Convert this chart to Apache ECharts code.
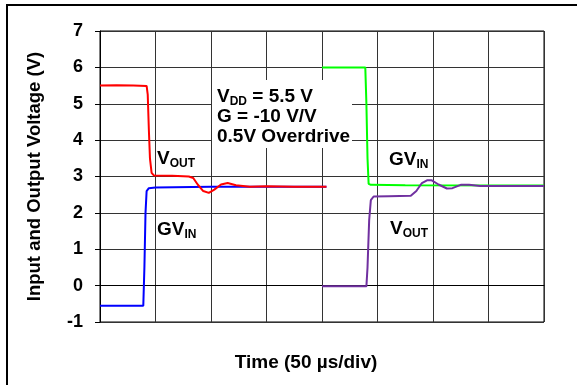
<!DOCTYPE html>
<html><head><meta charset="utf-8">
<script src="https://cdn.jsdelivr.net/npm/echarts@6/dist/echarts.min.js"></script>
<style>html,body{margin:0;padding:0;background:#fff}#c{width:577px;height:385px}</style>
</head><body><div id="c"></div>
<script>
// Time in divisions (50 µs/div), voltage in V
const redVout = [[0,5.5],[0.3,5.51],[0.6,5.5],[0.84,5.49],[0.86,5.25],[0.88,4.3],[0.9,3.5],[0.93,3.1],[0.97,3.03],[1.3,3.02],[1.6,3.0],[1.68,2.96],[1.76,2.78],[1.86,2.6],[1.96,2.55],[2.06,2.64],[2.18,2.78],[2.3,2.82],[2.45,2.76],[2.7,2.72],[3.0,2.73],[3.5,2.72],[4.08,2.72]];
const blueGvin = [[0,-0.55],[0.78,-0.55],[0.8,0.5],[0.82,2.0],[0.84,2.6],[0.88,2.68],[1.0,2.7],[2.0,2.72],[4.08,2.72]];
const greenGvin = [[4.0,6.0],[4.78,6.0],[4.8,5.0],[4.82,3.5],[4.84,2.8],[4.88,2.77],[5.5,2.76],[8.0,2.75]];
const purpleVout = [[4.0,-0.02],[4.8,-0.02],[4.82,0.5],[4.85,1.8],[4.88,2.35],[4.93,2.45],[5.2,2.46],[5.6,2.47],[5.7,2.6],[5.8,2.82],[5.9,2.9],[5.97,2.9],[6.1,2.78],[6.25,2.67],[6.35,2.68],[6.5,2.77],[6.65,2.77],[6.85,2.74],[8.0,2.74]];
const yTicks = [-1,0,1,2,3,4,5,6,7];
const xDivs = [0,8];

const FONT = '"Liberation Sans", Arial, sans-serif';
const rich = {
  b:{fontSize:19,fontWeight:'bold',fontFamily:FONT,color:'#000'},
  s:{fontSize:12,fontWeight:'bold',fontFamily:FONT,color:'#000',padding:[10,0,0,0]}
};
const chart = echarts.init(document.getElementById('c'));
function lineSeries(name,data,color){
  return {name,type:'line',data,showSymbol:false,symbol:'none',lineStyle:{color,width:2},itemStyle:{color},z:3};
}
chart.setOption({
  animation:false,
  backgroundColor:'#fff',
  grid:{left:100,top:31,width:444,height:291,show:true,borderColor:'#000',borderWidth:1,backgroundColor:'transparent'},
  xAxis:{type:'value',min:xDivs[0],max:xDivs[1],interval:1,
    axisLine:{show:true,lineStyle:{color:'#000',width:1}},axisTick:{show:false},axisLabel:{show:false},
    splitLine:{show:true,lineStyle:{color:'#333',width:1}}},
  yAxis:{type:'value',min:yTicks[0],max:yTicks[yTicks.length-1],interval:1,
    axisLine:{show:true,lineStyle:{color:'#000',width:1}},
    axisTick:{show:true,length:5,lineStyle:{color:'#000'}},
    axisLabel:{fontSize:18,fontWeight:'bold',fontFamily:FONT,color:'#000',margin:17},
    splitLine:{show:true,lineStyle:{color:'#333',width:1}},
    name:'Input and Output Voltage (V)',nameLocation:'middle',nameGap:56,nameRotate:90,
    nameTextStyle:{fontSize:18.5,fontWeight:'bold',fontFamily:FONT,color:'#000'}},
  series:[
    lineSeries('GVIN left',blueGvin,'#0000ff'),
    lineSeries('VOUT left',redVout,'#ff0000'),
    lineSeries('GVIN right',greenGvin,'#00ff00'),
    lineSeries('VOUT right',purpleVout,'#7030a0')
  ],
  graphic:[
    {type:'polyline',shape:{points:[[7,390],[7,5],[590,5]]},style:{fill:'none',stroke:'#000',lineWidth:2},z:10},
    {type:'rect',shape:{x:212,y:80,width:140,height:68},style:{fill:'#fff'},z:5},
    {type:'text',x:217,y:87,z:6,style:{text:'{b|V}{s|DD}{b| = 5.5 V}\n{b|G = -10 V/V}\n{b|0.5V Overdrive}',rich,lineHeight:20}},
    {type:'text',x:157,y:148,z:6,style:{text:'{b|V}{s|OUT}',rich}},
    {type:'text',x:157,y:219,z:6,style:{text:'{b|GV}{s|IN}',rich}},
    {type:'text',x:389,y:149,z:6,style:{text:'{b|GV}{s|IN}',rich}},
    {type:'text',x:390,y:218,z:6,style:{text:'{b|V}{s|OUT}',rich}},
    {type:'text',x:306,y:363,z:6,style:{text:'Time (50 µs/div)',font:'bold 19px '+FONT,fill:'#000',textAlign:'center',textVerticalAlign:'middle'}}
  ]
});
</script></body></html>
